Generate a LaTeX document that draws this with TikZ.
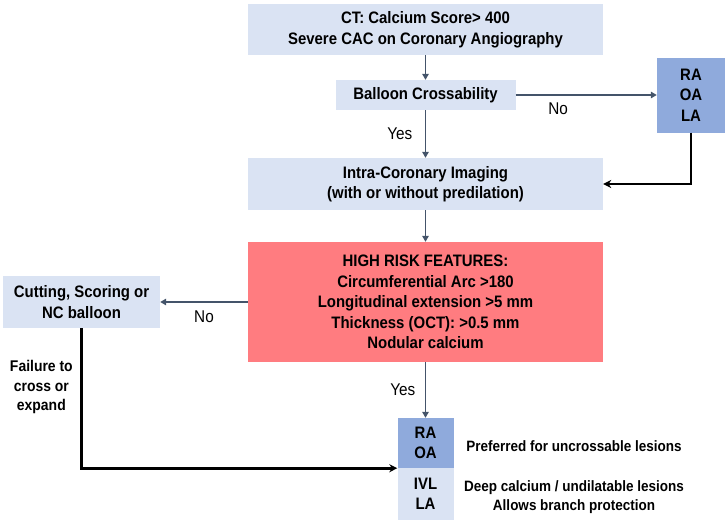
\documentclass[tikz,border=0pt]{standalone}
\usepackage{fontspec}
\setmainfont[FakeStretch=0.9]{Liberation Sans}
\usetikzlibrary{arrows.meta}

\definecolor{lightbox}{HTML}{DAE3F3}
\definecolor{darkbox}{HTML}{8FAADC}
\definecolor{riskred}{HTML}{FF7C80}
\definecolor{arrowgray}{HTML}{44546A}

\begin{document}
\begin{tikzpicture}[x=1pt, y=-1pt,
    box/.style={fill=lightbox, align=center, inner sep=0pt,
        font=\bfseries\fontsize{16.6}{20.5}\selectfont},
    flow/.style={draw=arrowgray, line width=1.8pt, -{Triangle[length=6pt, width=6.5pt]}},
    back/.style={draw=black, line width=2.8pt, -{Stealth[length=8pt, width=8pt]}},
    answer/.style={font=\fontsize{17}{18}\selectfont},
    note/.style={align=center, font=\bfseries\fontsize{15}{19}\selectfont}]
        \useasboundingbox (0,0) rectangle (726,523);

        %%%%%%%%%% Nodes %%%%%%%%%%
        \node[box, minimum width=355pt, minimum height=51pt] (ct) at (425.5,29.5)
            {CT: Calcium Score> 400\\Severe CAC on Coronary Angiography};
        \node[box, minimum width=180pt, minimum height=30pt] (balloon) at (425.5,95) {Balloon Crossability};
        \node[box, fill=darkbox, minimum width=68pt, minimum height=75pt] (ratop) at (691,95) {RA\\OA\\LA};
        \node[box, minimum width=355pt, minimum height=52pt] (imaging) at (425.5,184)
            {Intra-Coronary Imaging\\(with or without predilation)};
        \node[box, fill=riskred, minimum width=355pt, minimum height=120pt] (risk) at (425.5,302)
            {HIGH RISK FEATURES:\\Circumferential Arc >180\\Longitudinal extension >5 mm\\Thickness (OCT): >0.5 mm\\Nodular calcium};
        \node[box, minimum width=157pt, minimum height=52pt] (cutting) at (81.5,302)
            {Cutting, Scoring or\\NC balloon};
        \node[box, fill=darkbox, minimum width=56pt, minimum height=50pt] (raoa) at (425.5,443) {RA\\OA};
        \node[box, minimum width=56pt, minimum height=52pt] (ivl) at (425.5,494) {IVL\\LA};
        \node[note] (preferred) at (574,446) {Preferred for uncrossable lesions};
        \node[note] (deep) at (574,497) {Deep calcium / undilatable lesions\\Allows branch protection};

        %%%%%%%%%% Arrows %%%%%%%%%%
        \draw[flow] (ct) -- (balloon);
        \draw[flow] (balloon) -- node[answer, pos=0.5, left=9pt] {Yes} (imaging);
        \draw[flow] (balloon) -- node[answer, pos=0.3, below=4pt] {No} (ratop);
        \draw[back] (ratop.south) |- (imaging.east);
        \draw[flow] (imaging) -- (risk);
        \draw[flow] (risk) -- node[answer, below=5pt] {No} (cutting);
        \draw[flow] (risk) -- node[answer, pos=0.5, left=6pt] {Yes} (raoa);
        \draw[back] (cutting.south) |- node[note, pos=0.21, left=4pt, font=\bfseries\fontsize{15.5}{19.5}\selectfont]
            {Failure to\\cross or\\expand} (raoa.south west);
    \end{tikzpicture}
\end{document}
